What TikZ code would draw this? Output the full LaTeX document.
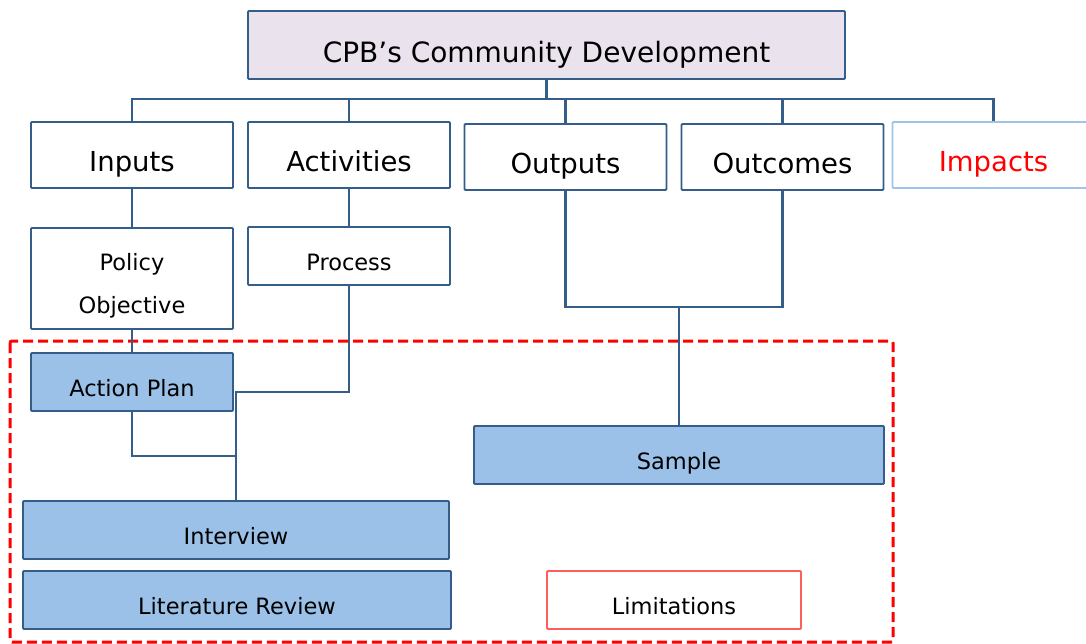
\documentclass[tikz,border=0pt]{standalone}
\usepackage{fontspec}
\setmainfont{DejaVu Sans}

\definecolor{lineblue}{RGB}{52,93,138}
\definecolor{boxblue}{RGB}{155,193,232}
\definecolor{titlefill}{RGB}{234,227,238}
\definecolor{paleblue}{RGB}{160,196,232}
\definecolor{limitred}{RGB}{255,92,92}

\begin{document}
\begin{tikzpicture}[
    x=1pt, y=-1pt,
    box/.style={draw=lineblue, line width=1.9pt, rounded corners=1pt, inner sep=0pt, text depth=0pt},
    top box/.style={box, fill=titlefill, minimum width=597pt, minimum height=68pt, font=\fontsize{28}{34}\selectfont, text height=35.5pt},
    stage/.style={box, minimum width=202pt, minimum height=66pt, font=\fontsize{27.5}{33}\selectfont, text height=34pt},
    sub box/.style={box, minimum width=202pt, minimum height=58pt, font=\fontsize{22.5}{27}\selectfont, text height=29.5pt},
    method/.style={sub box, fill=boxblue},
    link/.style={draw=lineblue, line width=2.5pt}
]
\useasboundingbox (0,0) rectangle (1086,644);

% Research scope frame
\draw[red, line width=3pt, dash pattern=on 10pt off 5pt, rounded corners=2pt] (10,341) rectangle (893,642);

% Title
\node[top box] (cpb) at (546.5, 45) {CPB’s Community Development};

% Logic model stages
\node[stage] (inputs) at (132, 155) {Inputs};
\node[stage] (activities) at (349, 155) {Activities};
\node[stage] (outputs) at (565.5, 157) {Outputs};
\node[stage] (outcomes) at (782.5, 157) {Outcomes};
\node[stage, draw=paleblue, text=red] (impacts) at (993.5, 155) {Impacts};

% Second level
\node[sub box, minimum height=101pt, align=center, font=\fontsize{22.5}{43}\selectfont,
      text height=69.4pt, text depth=0pt] (policy) at (132, 278.5) {Policy\\Objective};
\node[sub box] (process) at (349, 256) {Process};

% Inside the scope
\node[method] (plan) at (132, 382) {Action Plan};
\node[method, minimum width=426pt] (interview) at (236, 530) {Interview};
\node[method, minimum width=428pt] (literature) at (237, 600) {Literature Review};
\node[method, minimum width=410pt] (sample) at (679, 455) {Sample};
\node[sub box, draw=limitred, minimum width=254pt] (limits) at (674, 600) {Limitations};

% Connectors
\coordinate (bus) at (546.5, 99);
\draw[link] (cpb.south) -- (bus);
\foreach \s in {inputs, activities, outputs, outcomes, impacts}
    \draw[link] (\s.north) |- (bus);

\draw[link] (inputs.south) -- (policy.north);
\draw[link] (activities.south) -- (process.north);
\draw[link] (policy.south) -- (plan.north);

\coordinate (process join) at (236, 392);
\coordinate (plan join) at (236, 456);
\draw[link] (process.south) |- (process join) -- (interview.north);
\draw[link] (plan.south) |- (plan join);

\coordinate (result join) at (679, 307);
\draw[link] (outputs.south) |- (result join);
\draw[link] (outcomes.south) |- (result join) -- (sample.north);

\end{tikzpicture}
\end{document}
